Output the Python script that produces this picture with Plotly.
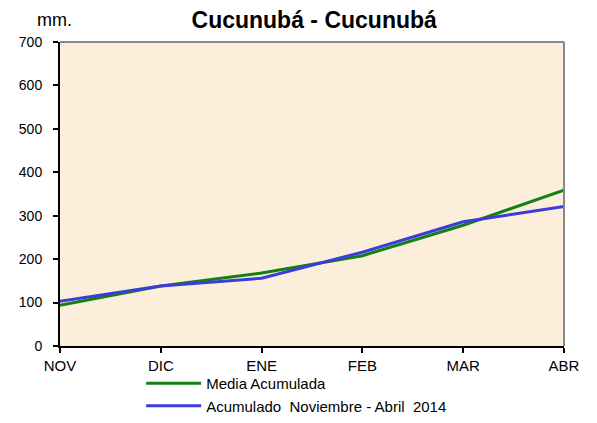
import plotly.graph_objects as go

meses = ["NOV", "DIC", "ENE", "FEB", "MAR", "ABR"]
media_acum = [94, 138, 168, 208, 278, 359]
acum_2014 = [103, 138, 156, 216, 286, 321]

fig = go.Figure()
fig.add_trace(go.Scatter(x=meses, y=media_acum, mode="lines", name="Media Acumulada",
                         line=dict(color="#128012", width=3)))
fig.add_trace(go.Scatter(x=meses, y=acum_2014, mode="lines",
                         name="Acumulado  Noviembre - Abril  2014",
                         line=dict(color="#3C3CDA", width=3)))

# la pagina tiene 8px de margen en el body
fig.update_layout(
    width=581, height=407,
    margin=dict(l=52, r=25, t=34, b=69, autoexpand=False),
    paper_bgcolor="white", plot_bgcolor="#FBEEDA",
    font=dict(family="Liberation Sans, Arial", size=14, color="black"),
    title=dict(text="<b>Cucunubá - Cucunubá</b>", x=0.527, xanchor="center",
               y=0.97, yanchor="middle", font=dict(size=23)),
    showlegend=True,
    legend=dict(x=0.161, xanchor="left", yref="container", y=0.118, yanchor="top",
                bgcolor="rgba(0,0,0,0)", itemwidth=55,
                tracegroupgap=0, font=dict(size=15)),
    annotations=[dict(text="mm.", xref="paper", yref="paper", x=-0.01, y=1.072,
                      xanchor="center", yanchor="middle", showarrow=False,
                      font=dict(size=18))],
)
fig.update_xaxes(range=[0, 5], showgrid=False, showline=True, linecolor="black",
                 linewidth=2, ticks="outside", ticklen=5, tickwidth=2,
                 tickcolor="black", zeroline=False, automargin=False,
                 tickfont=dict(size=15))
fig.update_yaxes(range=[0, 700], dtick=100, showgrid=False, showline=True,
                 linecolor="black", linewidth=2, ticks="outside", ticklen=5,
                 tickwidth=2, tickcolor="black", zeroline=False, automargin=False,
                 ticklabelstandoff=8, tickfont=dict(size=14))
# borde gris superior y derecho
fig.add_shape(type="line", xref="paper", yref="paper", x0=0, x1=1, y0=1, y1=1,
              line=dict(color="#888888", width=2))
fig.add_shape(type="line", xref="paper", yref="paper", x0=1, x1=1, y0=0, y1=1,
              line=dict(color="#888888", width=2))

fig.write_html("out.html")
